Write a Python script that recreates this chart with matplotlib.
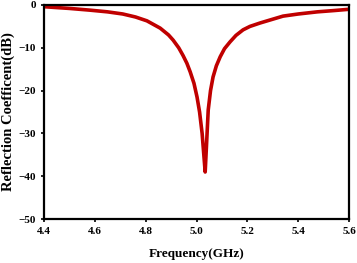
import matplotlib
matplotlib.use('Agg')
from matplotlib import pyplot as plt

# values
freq = [4.40, 4.50, 4.58, 4.65, 4.71, 4.76, 4.805, 4.857, 4.89, 4.908,
        4.93, 4.947, 4.962, 4.975, 4.99, 5.002, 5.012, 5.022, 5.028, 5.034,
        5.039, 5.046, 5.055, 5.065, 5.078, 5.093, 5.11, 5.132, 5.155, 5.183,
        5.21, 5.25, 5.278, 5.34, 5.40, 5.475, 5.54, 5.60]
s11 = [-0.4, -0.8, -1.2, -1.6, -2.1, -2.8, -3.7, -5.4, -7.0, -8.2,
       -10.0, -11.8, -13.6, -15.6, -18.3, -21.5, -25.0, -30.0, -34.5, -39.0,
       -33.0, -24.5, -20.0, -16.8, -14.2, -12.1, -10.2, -8.6, -7.1, -5.8,
       -5.0, -4.2, -3.7, -2.6, -2.1, -1.6, -1.3, -1.0]
xticks = [4.4, 4.6, 4.8, 5.0, 5.2, 5.4, 5.6]
yticks = [0, -10, -20, -30, -40, -50]

plt.rcParams['font.family'] = 'Liberation Serif'
plt.rcParams['font.weight'] = 'bold'

fig = plt.figure(figsize=(3.57, 2.63), dpi=100)
ax = fig.add_axes([0.123, 0.167, 0.855, 0.814])
ax.plot(freq, s11, color='#c00000', linewidth=2.6,
        solid_joinstyle='round', solid_capstyle='round')
ax.set_xlim(4.4, 5.6)
ax.set_ylim(-50, 0)
ax.set_xticks(xticks)
ax.set_xticklabels(['%.1f' % t for t in xticks])
ax.set_yticks(yticks)
ax.tick_params(labelsize=8, width=1.2, length=2.5, direction='out', pad=3)
for s in ax.spines.values():
    s.set_linewidth(1.6)
ax.set_xlabel('Frequency(GHz)', fontsize=9.5, fontweight='bold', labelpad=9)
ax.set_ylabel('Reflection Coefficent(dB)', fontsize=10.5, fontweight='bold', labelpad=3)

fig.savefig('out.png', dpi=100)
